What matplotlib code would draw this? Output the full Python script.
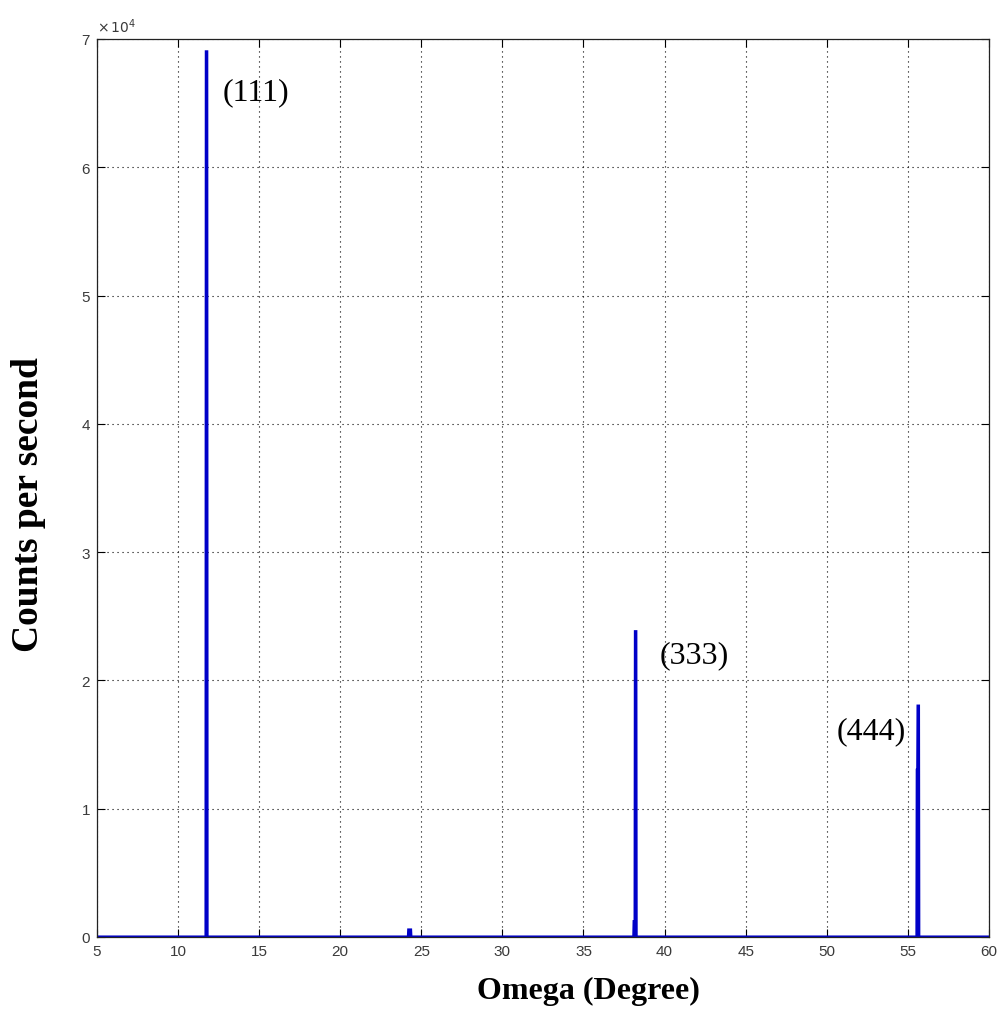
import matplotlib
matplotlib.use('Agg')
import matplotlib.pyplot as plt

# rocking curve scan: omega angle vs. detector counts
omega = [5.0, 11.72, 11.74, 11.77, 11.79, 24.20, 24.22, 24.34, 24.36,
         38.10, 38.12, 38.18, 38.20, 38.23, 38.25,
         55.56, 55.58, 55.61, 55.63, 55.66, 55.68, 60.0]
counts = [0, 0, 69000, 69000, 0, 0, 550, 550, 0,
          0, 1200, 1200, 23800, 23800, 0,
          0, 13000, 13000, 18000, 18000, 0, 0]

# reflection labels and where they sit
peak_labels = ['(111)', '(333)', '(444)']
label_x = [12.73, 39.71, 50.64]
label_y = [65900, 22000, 16100]

xticks = [5, 10, 15, 20, 25, 30, 35, 40, 45, 50, 55, 60]
yticks = [0, 10000, 20000, 30000, 40000, 50000, 60000, 70000]

fig = plt.figure(figsize=(10.01, 10.2), dpi=100)
ax = fig.add_axes([0.0969, 0.0804, 0.891, 0.8804])

ax.plot(omega, counts, color='#0000c8', linewidth=2.2, solid_joinstyle='miter')

for txt, x, y in zip(peak_labels, label_x, label_y):
    ax.text(x, y, txt, fontsize=23, family='Liberation Serif', va='center', ha='left')

ax.set_xlim(5, 60)
ax.set_ylim(0, 70000)
ax.set_xticks(xticks)
ax.set_yticks(yticks)
ax.set_xticklabels([str(t) for t in xticks])
ax.set_yticklabels([str(t // 10000) for t in yticks])
ax.tick_params(direction='in', length=6, width=0.8, top=True, right=True,
               labelsize=11, labelcolor='#3a3a3a', pad=5)
for lab in ax.get_xticklabels() + ax.get_yticklabels():
    lab.set_family('Liberation Sans')

ax.grid(True, color='black', linestyle=(0, (1, 3.5)), linewidth=0.8)
for s in ax.spines.values():
    s.set_linewidth(0.9)
    s.set_color('#222222')

ax.text(0.0, 1.004, r'$\times\,10^{4}$', transform=ax.transAxes, fontsize=10,
        color='#3a3a3a', ha='left', va='bottom')

fig.text(0.028, 0.505, 'Counts per second', rotation=90, fontsize=27,
         fontweight='bold', family='Liberation Serif', ha='center', va='center')
fig.text(0.588, 0.0275, 'Omega (Degree)', fontsize=23, fontweight='bold',
         family='Liberation Serif', ha='center', va='center')

fig.savefig('out.png', dpi=100, facecolor='white')
